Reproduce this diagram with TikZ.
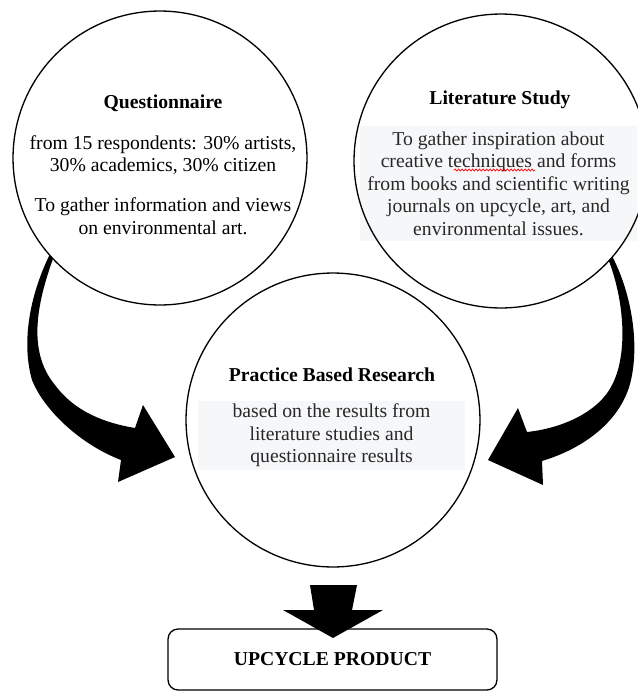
\documentclass[tikz,border=0pt]{standalone}
\usepackage{fontspec}
\setmainfont{Liberation Serif}
\usetikzlibrary{calc,decorations.pathmorphing}

\definecolor{boxgrey}{RGB}{246,247,249}
\definecolor{textgrey}{RGB}{40,40,40}

\begin{document}
\begin{tikzpicture}[x=0.02cm, y=-0.02cm,
    bubble/.style={circle, fill=white, minimum size=5.88cm, inner sep=0pt},
    headtext/.style={font=\fontsize{11.2}{12.8}\selectfont\bfseries},
    bodytext/.style={align=center, font=\fontsize{11.2}{12.8}\selectfont},
    greybox/.style={bodytext, fill=boxgrey, text=textgrey, inner sep=0pt}]

    %% Background
    \useasboundingbox (0,0) rectangle (637,691);

    % Curved arrows
    \fill (49,256) .. controls (28,300) and (22,345) .. (32,380)
        .. controls (45,412) and (82,445) .. (121,460)
        -- (118,482) -- (175,457) -- (143,405) -- (135,428)
        .. controls (105,423) and (75,412) .. (55,385)
        .. controls (26,350) and (38,300) .. (54,256) -- cycle;
    \fill (612,256) .. controls (630,290) and (640,340) .. (631,380)
        .. controls (622,420) and (585,448) .. (542,461)
        -- (543,485) -- (488,460) -- (518,408) -- (527,432)
        .. controls (565,428) and (600,410) .. (612,385)
        .. controls (628,355) and (625,300) .. (607,256) -- cycle;

    % Circles
    \node[bubble] (quest) at (160,158) {};
    \node[bubble] (litstudy) at (501,161) {};
    \node[bubble] (practice) at (333,420) {};

    % Questionnaire
    \node[headtext] (questhead) at (163,103) {Questionnaire};
    \node[bodytext] (questresp) at (163,155)
        {from 15 respondents: 30\% artists,\\30\% academics, 30\% citizen};
    \node[bodytext] (questaim) at (163,216)
        {To gather information and views\\on environmental art.};

    % Literature study
    \node[headtext] (lithead) at (500,100) {Literature Study};
    \node[greybox, minimum width=5.54cm, minimum height=2.3cm] (litbody) at (498.5,183.5)
        {To gather inspiration about\\creative techniques and forms\\from books and scientific writing\\journals on upcycle, art, and\\environmental issues.};
    \draw[red, line width=0.4pt, decorate,
        decoration={snake, amplitude=0.02cm, segment length=0.07cm}]
        (454,170) -- (535,170);

    % Practice based research
    \node[headtext] (practhead) at (332,375) {Practice Based Research};
    \node[greybox, minimum width=5.34cm, minimum height=1.38cm] (practbody) at (331.5,435.5)
        {based on the results from\\literature studies and\\questionnaire results};

    \foreach \c in {quest,litstudy,practice}
    {
    \draw[line width=0.75pt] (\c.center) circle[radius=2.94cm];
    }

    % Product
    \node[draw, line width=0.75pt, rounded corners=0.2cm, headtext,
        minimum width=6.58cm, minimum height=1.22cm] (upcycle) at (332.5,659.5) {UPCYCLE PRODUCT};
    \fill (310,585) -- (357,585) -- (352,610) -- (383,610) -- (333,638)
        -- (283,610) -- (314,610) -- cycle;

\end{tikzpicture}
\end{document}
